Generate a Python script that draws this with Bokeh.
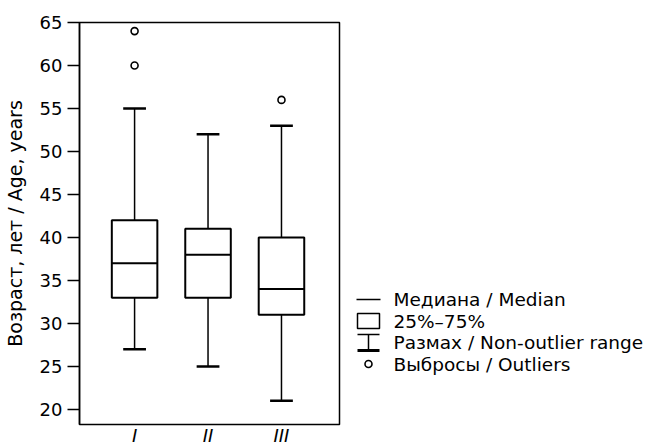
from bokeh.plotting import figure
from bokeh.layouts import row
from bokeh.models import Range1d, FixedTicker, ColumnDataSource
from bokeh.core.properties import value
from bokeh.embed import file_html
from bokeh.resources import INLINE

# ---- data ----
groups = ["I", "II", "III"]
lower = [27, 25, 21]
q1 = [33, 33, 31]
median = [37, 38, 34]
q3 = [42, 41, 40]
upper = [55, 52, 53]
outlier_group = ["I", "I", "III"]
outlier_value = [64, 60, 56]
y_ticks = [20, 25, 30, 35, 40, 45, 50, 55, 60, 65]
y_label = "Возраст, лет / Age, years"
legend_labels = ["Медиана / Median", "25%–75%", "Размах / Non-outlier range", "Выбросы / Outliers"]

FONT = "DejaVu Sans"
BOX_W = 0.62
CAP_W = 0.31

# layout (pixels)
MAIN_W, LEG_W, H = 348, 300, 448
TOP, BOTTOM = 22, 24

xpos = [i + 1 for i in range(len(groups))]
src = ColumnDataSource(dict(
    x=xpos, lower=lower, q1=q1, median=median, q3=q3, upper=upper,
    xl=[x - BOX_W / 2 for x in xpos], xr=[x + BOX_W / 2 for x in xpos],
    cl=[x - CAP_W / 2 for x in xpos], cr=[x + CAP_W / 2 for x in xpos],
))
out_src = ColumnDataSource(dict(
    x=[groups.index(g) + 1 for g in outlier_group], y=outlier_value))

p = figure(width=MAIN_W, height=H, output_backend="svg", toolbar_location=None,
           x_range=Range1d(0.25, 3.79), y_range=Range1d(18.25, 65),
           min_border_left=79, min_border_top=TOP, min_border_right=9,
           min_border_bottom=BOTTOM)
p.grid.visible = False
p.outline_line_color = "black"
p.outline_line_width = 1.5
p.background_fill_color = "white"
p.border_fill_color = "white"

# whiskers
p.segment(x0="x", y0="lower", x1="x", y1="q1", source=src, line_color="black", line_width=1.5)
p.segment(x0="x", y0="q3", x1="x", y1="upper", source=src, line_color="black", line_width=1.5)
# caps
p.segment(x0="cl", y0="lower", x1="cr", y1="lower", source=src, line_color="black", line_width=2.5)
p.segment(x0="cl", y0="upper", x1="cr", y1="upper", source=src, line_color="black", line_width=2.5)
# boxes
p.vbar(x="x", bottom="q1", top="q3", width=BOX_W, source=src,
       fill_color="white", line_color="black", line_width=2)
# medians
p.segment(x0="xl", y0="median", x1="xr", y1="median", source=src, line_color="black", line_width=2)
# outliers
p.scatter(x="x", y="y", source=out_src, marker="circle", size=7,
          fill_color="white", line_color="black", line_width=1.6)

yax = p.yaxis[0]
yax.ticker = FixedTicker(ticks=y_ticks)
yax.axis_label = y_label
yax.axis_label_text_font = FONT
yax.axis_label_text_font_size = "19px"
yax.axis_label_text_font_style = "normal"
yax.axis_label_text_color = "black"
yax.axis_label_standoff = 11
yax.major_label_text_font = FONT
yax.major_label_text_font_size = "18px"
yax.major_label_text_color = "black"
yax.major_label_standoff = 5
yax.major_tick_out = 12
yax.major_tick_in = 0
yax.major_tick_line_width = 1.5
yax.major_tick_line_color = "black"
yax.minor_tick_line_color = None
yax.axis_line_color = "black"
yax.axis_line_width = 1.5

xax = p.xaxis[0]
xax.ticker = FixedTicker(ticks=xpos)
xax.major_label_overrides = {x: g for x, g in zip(xpos, groups)}
xax.major_label_text_font = FONT
xax.major_label_text_font_size = "18px"
xax.major_label_text_font_style = "italic"
xax.major_label_text_color = "black"
xax.major_label_standoff = 0
xax.major_tick_out = 0
xax.major_tick_in = 0
xax.major_tick_line_color = None
xax.minor_tick_line_color = None
xax.axis_line_color = None

# ---- legend panel (data units = page pixels) ----
lg = figure(width=LEG_W, height=H, output_backend="svg", toolbar_location=None,
            x_range=Range1d(MAIN_W, MAIN_W + LEG_W), y_range=Range1d(H - BOTTOM, TOP),
            x_axis_type=None, y_axis_type=None,
            min_border_left=0, min_border_right=0,
            min_border_top=TOP, min_border_bottom=BOTTOM)
lg.grid.visible = False
lg.outline_line_color = None

ROW0, STEP = 299, 21.5
GX0, GX1 = 356, 380
GC = (GX0 + GX1) / 2
TX = 393
rows_y = [ROW0 + i * STEP for i in range(len(legend_labels))]

# median sample
lg.segment(x0=[GX0], y0=[rows_y[0]], x1=[GX1], y1=[rows_y[0]], line_color="black", line_width=1.5)
# box sample
lg.quad(left=[GX0 + 1], right=[GX1 - 1], top=[rows_y[1] - 7.5], bottom=[rows_y[1] + 7.5],
        fill_color="white", line_color="black", line_width=1.5)
# range sample
lg.segment(x0=[GC], y0=[rows_y[2] - 8], x1=[GC], y1=[rows_y[2] + 8], line_color="black", line_width=1.5)
lg.segment(x0=[GX0 + 1], y0=[rows_y[2] - 8], x1=[GX1 - 1], y1=[rows_y[2] - 8], line_color="black", line_width=1.5)
lg.segment(x0=[GX0 + 1], y0=[rows_y[2] + 8], x1=[GX1 - 1], y1=[rows_y[2] + 8], line_color="black", line_width=3)
# outlier sample
lg.scatter(x=[GC], y=[rows_y[3]], marker="circle", size=7,
           fill_color="white", line_color="black", line_width=1.6)
# labels
lg.text(x=[TX] * len(legend_labels), y=rows_y, text=legend_labels,
        text_font=value(FONT), text_font_size="18.5px", text_baseline="middle",
        text_align="left", text_color="black")

layout = row(p, lg)
open("out.html", "w").write(file_html(layout, INLINE))
